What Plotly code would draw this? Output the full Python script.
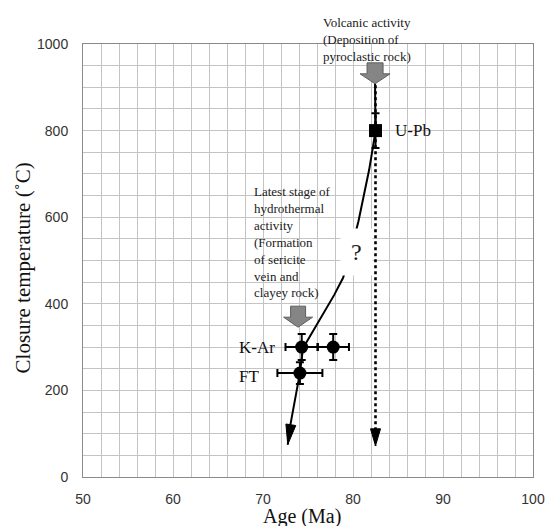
import math
import plotly.graph_objects as go

# ---------------- data ----------------
kar_age = [74.3, 77.8]
kar_temp = [300, 300]
kar_age_err = [1.8, 1.75]
kar_temp_err = [30, 30]

ft_age = [74.1]
ft_temp = [240]
ft_age_err = [2.5]
ft_temp_err = [25]

upb_age = [82.5]
upb_temp = [800]
upb_age_err = [0.3]
upb_temp_err = [40]

curve_age = [82.45, 82.5, 82.2, 81.8, 81.2, 80.6, 79.8, 78.9, 77.9, 76.9, 75.8, 74.8, 74.4, 74.1, 73.7, 73.3, 72.95, 72.75]
curve_temp = [908, 800, 760, 710, 650, 590, 525, 460, 420, 385, 345, 310, 290, 240, 195, 150, 110, 75]

dotted_age = [82.5, 82.5]
dotted_temp = [905, 72]

volcanic_arrow = (82.45, 908)      # tip of grey arrow (age, temp)
hydro_arrow = (73.9, 346)

x_ticks = [50, 60, 70, 80, 90, 100]
y_ticks = [0, 200, 400, 600, 800, 1000]

# ---------------- layout geometry ----------------
W, H = 557, 526
ML, MR, MT, MB = 83, 13, 44, 49
PW, PH = W - ML - MR, H - MT - MB
SX = PW / 50.0
SY = PH / 1000.0

def px_to_paper(px, py):
    return (px - ML) / PW, ((H - MB) - py) / PH

SERIF = "Liberation Serif, Times New Roman, serif"
SANS = "Liberation Sans, Arial, sans-serif"

fig = go.Figure()

fig.add_trace(go.Scatter(x=curve_age, y=curve_temp, mode="lines",
                         line=dict(color="black", width=2), hoverinfo="skip", showlegend=False))
fig.add_trace(go.Scatter(x=dotted_age, y=dotted_temp, mode="lines",
                         line=dict(color="black", width=2.6, dash="dot"), hoverinfo="skip", showlegend=False))

def pts(ax, ay, ex, ey, sym, size):
    fig.add_trace(go.Scatter(
        x=ax, y=ay, mode="markers",
        marker=dict(symbol=sym, size=size, color="black"),
        error_x=dict(type="data", array=ex, color="black", thickness=2, width=4),
        error_y=dict(type="data", array=ey, color="black", thickness=2, width=4),
        showlegend=False))

pts(kar_age, kar_temp, kar_age_err, kar_temp_err, "circle", 13)
pts(ft_age, ft_temp, ft_age_err, ft_temp_err, "circle", 13)
pts(upb_age, upb_temp, upb_age_err, upb_temp_err, "square", 13)

shapes = []

def arrowhead(tip, prev, L, w):
    dx = (tip[0] - prev[0]) * SX
    dy = (tip[1] - prev[1]) * SY
    n = math.hypot(dx, dy)
    ux, uy = dx / n, dy / n
    px, py = -uy, ux
    bx, by = -ux * L, -uy * L
    p1 = (bx + px * w / 2, by + py * w / 2)
    p2 = (bx - px * w / 2, by - py * w / 2)
    path = f"M0,0 L{p1[0]:.2f},{p1[1]:.2f} L{p2[0]:.2f},{p2[1]:.2f} Z"
    shapes.append(dict(type="path", xref="x", yref="y", xsizemode="pixel", ysizemode="pixel",
                       xanchor=tip[0], yanchor=tip[1], path=path,
                       fillcolor="black", line=dict(color="black", width=1)))

arrowhead((curve_age[-1], curve_temp[-1]), (curve_age[-3], curve_temp[-3]), 20, 10)
arrowhead((dotted_age[-1], dotted_temp[-1]), (dotted_age[0], dotted_temp[0]), 17, 10)

def grey_arrow(tip, shaft_w=16, shaft_h=11, head_w=30, head_h=10):
    hw, sw = head_w / 2, shaft_w / 2
    path = (f"M0,0 L{hw},{head_h} L{sw},{head_h} L{sw},{head_h+shaft_h} "
            f"L{-sw},{head_h+shaft_h} L{-sw},{head_h} L{-hw},{head_h} Z")
    shapes.append(dict(type="path", xref="x", yref="y", xsizemode="pixel", ysizemode="pixel",
                       xanchor=tip[0], yanchor=tip[1], path=path,
                       fillcolor="#858585", line=dict(color="#5e5e5e", width=1)))

grey_arrow(volcanic_arrow)
grey_arrow(hydro_arrow, shaft_w=15, head_w=29)

vx, vy = px_to_paper(327, 39)
ax_, ay_ = px_to_paper(307, 516)
yx, yy = px_to_paper(22, 268)

annotations = [
    dict(x=vx, y=vy, xref="paper", yref="paper", xanchor="left", yanchor="middle", align="left",
         text="Volcanic activity<br>(Deposition of<br>pyroclastic rock)", showarrow=False,
         font=dict(family=SERIF, size=13, color="#1a1a1a")),
    dict(x=68.8, y=543, xref="x", yref="y", xanchor="left", yanchor="middle", align="left",
         text="Latest stage of<br>hydrothermal<br>activity<br>(Formation<br>of sericite<br>vein and<br>clayey rock)",
         showarrow=False, font=dict(family=SERIF, size=13, color="#1a1a1a")),
    dict(x=80.4, y=520, xref="x", yref="y", text="?", showarrow=False, bgcolor="white",
         borderpad=10, font=dict(family=SERIF, size=24, color="#1a1a1a")),
    dict(x=84.4, y=800, xref="x", yref="y", xanchor="left", yanchor="middle", text="U-Pb",
         showarrow=False, font=dict(family=SERIF, size=17, color="#111")),
    dict(x=71.6, y=300, xref="x", yref="y", xanchor="right", yanchor="middle", text="K-Ar",
         showarrow=False, font=dict(family=SERIF, size=17, color="#111")),
    dict(x=69.8, y=232, xref="x", yref="y", xanchor="right", yanchor="middle", text="FT",
         showarrow=False, font=dict(family=SERIF, size=17, color="#111")),
    dict(x=ax_, y=ay_, xref="paper", yref="paper",
         xanchor="center", yanchor="middle", text="Age (Ma)", showarrow=False,
         font=dict(family=SERIF, size=20, color="#111")),
    dict(x=yx, y=yy, xref="paper", yref="paper",
         xanchor="center", yanchor="middle", text="Closure temperature (˚C)", textangle=-90,
         showarrow=False, font=dict(family=SERIF, size=21, color="#111")),
]

grid = "#c4c4c4"
fig.update_layout(
    width=W, height=H,
    margin=dict(l=ML, r=MR, t=MT, b=MB, pad=0),
    paper_bgcolor="white", plot_bgcolor="white",
    shapes=shapes, annotations=annotations,
    xaxis=dict(range=[50, 100], tickvals=x_ticks, ticktext=[str(v) for v in x_ticks],
               showgrid=True, gridcolor=grid, gridwidth=1,
               minor=dict(dtick=2, showgrid=True, gridcolor=grid, gridwidth=1),
               showline=True, linecolor="#8a8a8a", linewidth=1, mirror=True,
               ticks="", ticklabelstandoff=9, zeroline=False,
               tickfont=dict(family=SANS, size=14, color="#333")),
    yaxis=dict(range=[0, 1000], tickvals=y_ticks, ticktext=[str(v) for v in y_ticks],
               showgrid=True, gridcolor=grid, gridwidth=1,
               minor=dict(dtick=50, showgrid=True, gridcolor=grid, gridwidth=1),
               showline=True, linecolor="#8a8a8a", linewidth=1, mirror=True,
               ticks="", ticklabelstandoff=11, zeroline=False,
               tickfont=dict(family=SANS, size=14, color="#333")),
)

fig.write_html("out.html")
